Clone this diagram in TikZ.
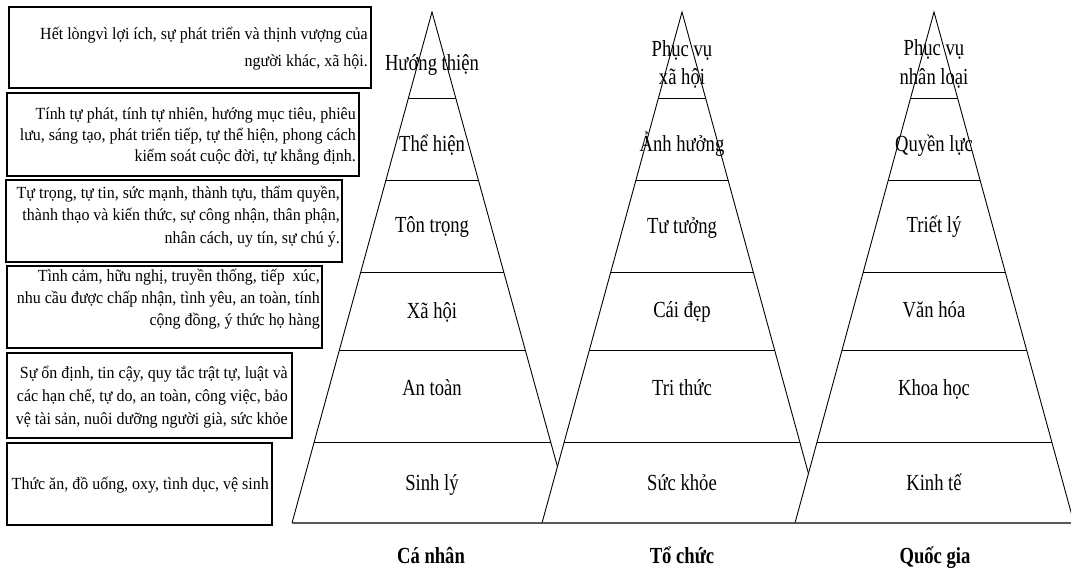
\documentclass[tikz,border=0pt]{standalone}
\usepackage{fontspec}
\setmainfont{Liberation Serif}
\newfontfamily\pyrfont{Liberation Serif}[FakeStretch=0.81]
\newfontfamily\boxfont{Liberation Serif}[FakeStretch=0.94]
\usetikzlibrary{calc}
\tikzset{
  boxframe/.style={draw=black, line width=1.2pt, inner sep=0pt},
  boxtxt/.style={font=\boxfont\fontsize{17}{17}\selectfont, inner sep=0pt, anchor=base east},
  lvl/.style={font=\pyrfont\fontsize{23}{23}\selectfont, inner sep=0pt, anchor=base},
  capt/.style={font=\pyrfont\bfseries\fontsize{23}{23}\selectfont, inner sep=0pt, anchor=base},
  sideline/.style={draw=black, line width=0.9pt},
  sepline/.style={draw=black, line width=0.9pt},
  baseline/.style={draw=black!65, line width=1.6pt},
}
\begin{document}
\begin{tikzpicture}[x=1pt, y=-1pt]
\useasboundingbox (0,0) rectangle (1071,577);
\clip (0,0) rectangle (1071,577);
\fill[white] (0,0) rectangle (1071,577);

% ---------- boxes ----------
\node[boxframe, minimum width=362pt, minimum height=81pt] (b1) at (190,47.5) {};
\node[boxframe, minimum width=352pt, minimum height=83pt] (b2) at (183,134.5) {};
\node[boxframe, minimum width=336pt, minimum height=82pt] (b3) at (174,221) {};
\node[boxframe, minimum width=315pt, minimum height=82pt] (b4) at (164.5,307) {};
\node[boxframe, minimum width=285pt, minimum height=85pt] (b5) at (149.5,395.5) {};
\node[boxframe, minimum width=265pt, minimum height=82pt] (b6) at (139.5,484) {};

\node[boxtxt] (t1a) at (368,39.3) {Hết lòngvì lợi ích, sự phát triển và thịnh vượng của};
\node[boxtxt] (t1b) at (368,66.7) {người khác, xã hội.};

\node[boxtxt] (t2a) at (356,119.3) {Tính tự phát, tính tự nhiên, hướng mục tiêu, phiêu};
\node[boxtxt] (t2b) at (356,140.5) {lưu, sáng tạo, phát triển tiếp, tự thể hiện, phong cách};
\node[boxtxt] (t2c) at (356,161.7) {kiểm soát cuộc đời, tự khẳng định.};

\node[boxtxt] (t3a) at (340,198.3) {Tự trọng, tự tin, sức mạnh, thành tựu, thẩm quyền,};
\node[boxtxt] (t3b) at (340,220.7) {thành thạo và kiến thức, sự công nhận, thân phận,};
\node[boxtxt] (t3c) at (340,243.3) {nhân cách, uy tín, sự chú ý.};

\node[boxtxt] (t4a) at (320,281.7) {Tình cảm, hữu nghị, truyền thống, tiếp\ \ xúc,};
\node[boxtxt] (t4b) at (320,303.5) {nhu cầu được chấp nhận, tình yêu, an toàn, tính};
\node[boxtxt] (t4c) at (320,325.7) {cộng đồng, ý thức họ hàng};

\node[boxtxt] (t5a) at (288,378.3) {Sự ổn định, tin cậy, quy tắc trật tự, luật và};
\node[boxtxt] (t5b) at (288,401.3) {các hạn chế, tự do, an toàn, công việc, bảo};
\node[boxtxt] (t5c) at (288,424) {vệ tài sản, nuôi dưỡng người già, sức khỏe};

\node[boxtxt] (t6a) at (269,489) {Thức ăn, đồ uống, oxy, tình dục, vệ sinh};

% ---------- pyramid 1 ----------
\coordinate (a1) at (432,12);
\coordinate (l1) at (292,523);
\coordinate (r1) at (573,523);
\fill[white] (a1) -- (l1) -- (r1) -- cycle;
\draw[sideline] (l1) -- (a1) -- (r1);
\foreach \t in {0.1683,0.3288,0.5088,0.6614,0.8415}
  \draw[sepline] ($(a1)!\t!(l1)$) -- ($(a1)!\t!(r1)$);
\draw[baseline] (l1) -- (r1);

\node[lvl] (p1a) at (432,71) {Hướng thiện};
\node[lvl] (p1b) at (432,152) {Thể hiện};
\node[lvl] (p1c) at (432,233) {Tôn trọng};
\node[lvl] (p1d) at (432,318.5) {Xã hội};
\node[lvl] (p1e) at (432,395.5) {An toàn};
\node[lvl] (p1f) at (432,490.5) {Sinh lý};

% ---------- pyramid 2 ----------
\coordinate (a2) at (682,12);
\coordinate (l2) at (542,523);
\coordinate (r2) at (822,523);
\fill[white] (a2) -- (l2) -- (r2) -- cycle;
\draw[sideline] (l2) -- (a2) -- (r2);
\foreach \t in {0.1683,0.3288,0.5088,0.6614,0.8415}
  \draw[sepline] ($(a2)!\t!(l2)$) -- ($(a2)!\t!(r2)$);
\draw[baseline] (l2) -- (r2);

\node[lvl] (p2a) at (682,56.5) {Phục vụ};
\node[lvl] (p2a2) at (682,85) {xã hội};
\node[lvl] (p2b) at (682,152) {Ảnh hưởng};
\node[lvl] (p2c) at (682,234) {Tư tưởng};
\node[lvl] (p2d) at (682,318) {Cái đẹp};
\node[lvl] (p2e) at (682,395) {Tri thức};
\node[lvl] (p2f) at (682,490) {Sức khỏe};

% ---------- pyramid 3 ----------
\coordinate (a3) at (934,12);
\coordinate (l3) at (795,523);
\coordinate (r3) at (1074,523);
\fill[white] (a3) -- (l3) -- (r3) -- cycle;
\draw[sideline] (l3) -- (a3) -- (r3);
\foreach \t in {0.1683,0.3288,0.5088,0.6614,0.8415}
  \draw[sepline] ($(a3)!\t!(l3)$) -- ($(a3)!\t!(r3)$);
\draw[baseline] (l3) -- (r3);

\node[lvl] (p3a) at (934,55.5) {Phục vụ};
\node[lvl] (p3a2) at (934,85) {nhân loại};
\node[lvl] (p3b) at (934,152) {Quyền lực};
\node[lvl] (p3c) at (934,233) {Triết lý};
\node[lvl] (p3d) at (934,318) {Văn hóa};
\node[lvl] (p3e) at (934,395) {Khoa học};
\node[lvl] (p3f) at (934,490) {Kinh tế};

% ---------- captions ----------
\node[capt] (c1) at (431,563) {Cá nhân};
\node[capt] (c2) at (682,563) {Tổ chức};
\node[capt] (c3) at (935,563) {Quốc gia};
\end{tikzpicture}
\end{document}
